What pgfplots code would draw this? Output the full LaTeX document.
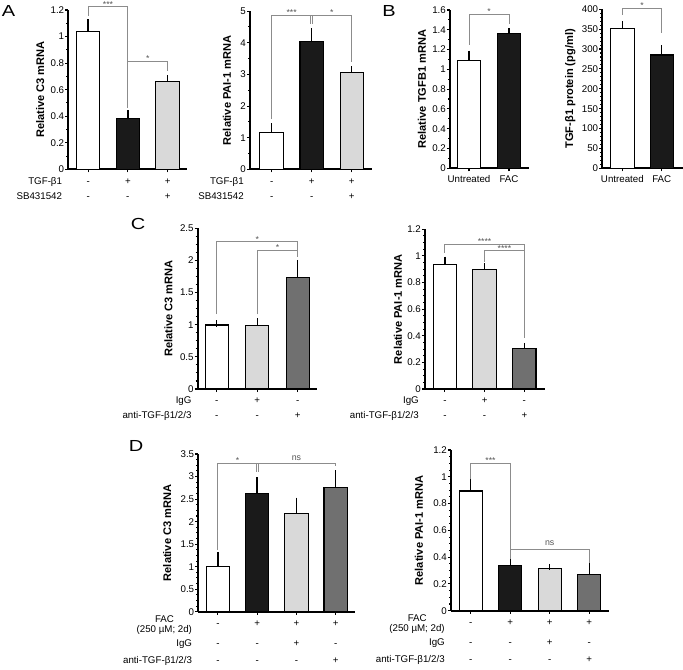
\documentclass[border=0pt]{standalone}
\usepackage{pgfplots}
\pgfplotsset{compat=1.18}
\usepackage{fontspec}
\setmainfont{Liberation Sans}

\definecolor{lgray}{HTML}{D9D9D9}
\definecolor{dgray}{HTML}{707070}
\definecolor{bblack}{HTML}{1A1A1A}
\definecolor{brc}{HTML}{8C8C8C}
\definecolor{stc}{HTML}{555555}

\newcommand{\tk}{\fontsize{7.3}{8}\selectfont}

\pgfplotsset{
  panel/.style={
    scale only axis, anchor=south west, clip=false,
    axis x line=bottom, axis y line=left,
    axis line style={-, line width=1.4pt, black},
    tick align=outside, major tick length=2.3pt, minor tick length=1.5pt,
    every tick/.append style={black, line width=0.8pt},
    ymin=0, xticklabels={,,,},
    y tick label style={font=\tk, inner sep=0.6pt},
    x tick label style={font=\tk, inner sep=0pt, anchor=base, yshift=-8.5pt},
    /pgf/number format/assume math mode=true,
  },
  ylab/.style={every axis y label/.style={at={(rel axis cs:0,0.5)}, xshift=#1,
    rotate=90, anchor=center, font=\bfseries\fontsize{8.3}{9}\selectfont}},
  bar/.style={ybar, bar width=17.5pt, bar shift=0pt, draw=black, line width=0.8pt, fill=#1,
    error bars/.cd, y dir=plus, y explicit,
    error bar style={black, line width=1pt},
    error mark options={black, line width=1pt, mark size=2.4pt}},
}
\tikzset{
  br/.style={draw=brc, line width=0.6pt},
  st/.style={text=stc, font=\fontsize{6.5}{7}\selectfont, anchor=base, inner sep=0pt, yshift=-0.3pt},
  ns/.style={text=stc, font=\fontsize{6.6}{7}\selectfont, anchor=base, inner sep=0pt, yshift=2.3pt},
  rl/.style={font=\tk, anchor=base east, inner sep=0pt, xshift=-4.5pt},
  sg/.style={font=\tk, anchor=base, inner sep=0pt},
  pl/.style={font=\fontsize{12}{14}\selectfont, inner sep=0pt},
}

\begin{document}
\begin{tikzpicture}
\useasboundingbox (0,0) rectangle (512.25pt,-501.75pt);

\node[pl] at (6.4pt,-8.3pt) {\scalebox{1.25}[1]{A}};
\node[pl] at (291.8pt,-8.6pt) {\scalebox{1.25}[1]{B}};
\node[pl] at (103.5pt,-168pt) {\scalebox{1.25}[1]{C}};
\node[pl] at (102pt,-334.5pt) {\scalebox{1.25}[1]{D}};

% ---- A: C3
\begin{axis}[panel, ylab=-21pt, at={(51.2pt,-127pt)}, width=88.8pt, height=119.5pt,
  xmin=-0.5, xmax=2.48, ymax=1.2, xtick={0,1,2},
  ytick={0,0.2,0.4,0.6,0.8,1,1.2}, minor y tick num=1,
  ylabel={Relative C3 mRNA}]
\addplot[bar=white] coordinates {(0,1.037) +- (0,0.068)};
\addplot[bar=bblack] coordinates {(1,0.384) +- (0,0.036)};
\addplot[bar=lgray] coordinates {(2,0.665) +- (0,0.02)};
\draw[br] (axis cs:0,1.155) -- (axis cs:0,1.225) -- (axis cs:1,1.225) -- (axis cs:1,0.46);
\node[st] at (axis cs:0.5,1.225) {***};
\draw[br] (axis cs:1,0.816) -- (axis cs:2,0.816) -- (axis cs:2,0.743);
\node[st] at (axis cs:1.5,0.816) {*};
\node[rl, yshift=-11.5pt] at (rel axis cs:0,0) {TGF-β1};
\node[rl, yshift=-22.8pt] at (rel axis cs:0,0) {SB431542};
\node[sg, yshift=-11.5pt] at (axis cs:0,0) {-};
\node[sg, yshift=-11.5pt] at (axis cs:1,0) {+};
\node[sg, yshift=-11.5pt] at (axis cs:2,0) {+};
\node[sg, yshift=-22.8pt] at (axis cs:0,0) {-};
\node[sg, yshift=-22.8pt] at (axis cs:1,0) {-};
\node[sg, yshift=-22.8pt] at (axis cs:2,0) {+};
\end{axis}

% ---- A: PAI-1
\begin{axis}[panel, ylab=-17.25pt, at={(187.5pt,-127pt)}, width=91.3pt, height=118.7pt,
  xmin=-0.54, xmax=2.5, ymax=5, xtick={0,1,2},
  ytick={0,1,2,3,4,5}, minor y tick num=1,
  ylabel={Relative PAI-1 mRNA}]
\addplot[bar=white] coordinates {(0,1.16) +- (0,0.19)};
\addplot[bar=bblack] coordinates {(1,4.05) +- (0,0.30)};
\addplot[bar=lgray] coordinates {(2,3.06) +- (0,0.10)};
\draw[br] (axis cs:0,1.58) -- (axis cs:0,4.87) -- (axis cs:2,4.87) -- (axis cs:2,3.4);
\draw[br, xshift=-0.7pt] (axis cs:1,4.87) -- (axis cs:1,4.59);
\draw[br, xshift=0.7pt] (axis cs:1,4.87) -- (axis cs:1,4.59);
\node[st] at (axis cs:0.5,4.87) {***};
\node[st] at (axis cs:1.5,4.87) {*};
\node[rl, yshift=-11.5pt] at (rel axis cs:0,0) {TGF-β1};
\node[rl, yshift=-22.8pt] at (rel axis cs:0,0) {SB431542};
\node[sg, yshift=-11.5pt] at (axis cs:0,0) {-};
\node[sg, yshift=-11.5pt] at (axis cs:1,0) {+};
\node[sg, yshift=-11.5pt] at (axis cs:2,0) {+};
\node[sg, yshift=-22.8pt] at (axis cs:0,0) {-};
\node[sg, yshift=-22.8pt] at (axis cs:1,0) {-};
\node[sg, yshift=-22.8pt] at (axis cs:2,0) {+};
\end{axis}

% ---- B: TGFB1 mRNA
\begin{axis}[panel, ylab=-21pt, at={(337.5pt,-126.2pt)}, width=59.25pt, height=118.7pt,
  xmin=-0.475, xmax=1.5, ymax=1.6, xtick={0,1}, xticklabels={Untreated,FAC},
  ytick={0,0.2,0.4,0.6,0.8,1,1.2,1.4,1.6}, minor y tick num=1,
  ylabel={Relative TGFB1 mRNA}]
\addplot[bar=white] coordinates {(0,1.085) +- (0,0.071)};
\addplot[bar=bblack] coordinates {(1,1.365) +- (0,0.023)};
\draw[br] (axis cs:0,1.247) -- (axis cs:0,1.56) -- (axis cs:1,1.56) -- (axis cs:1,1.459);
\node[st] at (axis cs:0.5,1.56) {*};
\end{axis}

% ---- B: TGF-b1 protein
\begin{axis}[panel, ylab=-24pt, at={(451.7pt,-126.2pt)}, width=60.3pt, height=119.25pt,
  xmin=-0.51, xmax=1.53, ymax=400, xtick={0,1}, xticklabels={Untreated,FAC},
  ytick={0,50,100,150,200,250,300,350,400}, minor y tick num=4,
  ylabel={TGF-β1 protein (pg/ml)}]
\addplot[bar=white] coordinates {(0,352) +- (0,10)};
\addplot[bar=bblack] coordinates {(1,285) +- (0,16)};
\draw[br] (axis cs:0,385.7) -- (axis cs:0,402.5) -- (axis cs:1,402.5) -- (axis cs:1,339.6);
\node[st] at (axis cs:0.5,402.5) {*};
\end{axis}

% ---- C: C3
\begin{axis}[panel, ylab=-22pt, at={(148.3pt,-291.75pt)}, width=89.25pt, height=120.5pt,
  xmin=-0.47, xmax=2.47, ymax=2.5, xtick={0,1,2},
  ytick={0,0.5,1,1.5,2,2.5}, minor y tick num=3,
  ylabel={Relative C3 mRNA}]
\addplot[bar=white] coordinates {(0,0.996) +- (0,0.021)};
\addplot[bar=lgray] coordinates {(1,0.99) +- (0,0.06)};
\addplot[bar=dgray] coordinates {(2,1.737) +- (0,0.223)};
\draw[br] (axis cs:0,1.167) -- (axis cs:0,2.29) -- (axis cs:2,2.29) -- (axis cs:2,2.06);
\draw[br] (axis cs:1,1.16) -- (axis cs:1,2.16) -- (axis cs:2,2.16);
\node[st] at (axis cs:1,2.29) {*};
\node[st] at (axis cs:1.5,2.16) {*};
\node[rl, yshift=-11pt] at (rel axis cs:0,0) {IgG};
\node[rl, yshift=-22.3pt] at (rel axis cs:0,0) {anti-TGF-β1/2/3};
\node[sg, yshift=-11pt] at (axis cs:0,0) {-};
\node[sg, yshift=-11pt] at (axis cs:1,0) {+};
\node[sg, yshift=-11pt] at (axis cs:2,0) {-};
\node[sg, yshift=-22.3pt] at (axis cs:0,0) {-};
\node[sg, yshift=-22.3pt] at (axis cs:1,0) {-};
\node[sg, yshift=-22.3pt] at (axis cs:2,0) {+};
\end{axis}

% ---- C: PAI-1
\begin{axis}[panel, ylab=-20.25pt, at={(318.75pt,-291.75pt)}, width=90pt, height=119.8pt,
  xmin=-0.5, xmax=2.52, ymax=1.2, xtick={0,1,2},
  ytick={0,0.2,0.4,0.6,0.8,1,1.2}, minor y tick num=3,
  ylabel={Relative PAI-1 mRNA}]
\addplot[bar=white] coordinates {(0,0.937) +- (0,0.033)};
\addplot[bar=lgray] coordinates {(1,0.90) +- (0,0.022)};
\addplot[bar=dgray] coordinates {(2,0.306) +- (0,0.017)};
\draw[br] (axis cs:0,1.02) -- (axis cs:0,1.088) -- (axis cs:2,1.088);
\draw[br] (axis cs:1,0.957) -- (axis cs:1,1.038) -- (axis cs:2,1.038);
\draw[br, line width=1.2pt] (axis cs:2,1.088) -- (axis cs:2,0.38);
\node[st] at (axis cs:1,1.088) {****};
\node[st] at (axis cs:1.5,1.038) {****};
\node[rl, yshift=-11pt] at (rel axis cs:0,0) {IgG};
\node[rl, yshift=-22.3pt] at (rel axis cs:0,0) {anti-TGF-β1/2/3};
\node[sg, yshift=-11pt] at (axis cs:0,0) {-};
\node[sg, yshift=-11pt] at (axis cs:1,0) {+};
\node[sg, yshift=-11pt] at (axis cs:2,0) {-};
\node[sg, yshift=-22.3pt] at (axis cs:0,0) {-};
\node[sg, yshift=-22.3pt] at (axis cs:1,0) {-};
\node[sg, yshift=-22.3pt] at (axis cs:2,0) {+};
\end{axis}

% ---- D: C3
\begin{axis}[panel, ylab=-23.25pt, at={(148.7pt,-458.8pt)}, width=117.5pt, height=118.3pt,
  xmin=-0.5, xmax=3.49, ymax=3.5, xtick={0,1,2,3},
  ytick={0,0.5,1,1.5,2,2.5,3,3.5}, minor y tick num=3,
  ylabel={Relative C3 mRNA}]
\addplot[bar=white] coordinates {(0,1.0) +- (0,0.26)};
\addplot[bar=bblack] coordinates {(1,2.63) +- (0,0.28)};
\addplot[bar=lgray] coordinates {(2,2.185) +- (0,0.275)};
\addplot[bar=dgray] coordinates {(3,2.76) +- (0,0.31)};
\draw[br] (axis cs:0,1.37) -- (axis cs:0,3.29) -- (axis cs:3,3.29) -- (axis cs:3,3.23);
\draw[br, xshift=-0.7pt] (axis cs:1,3.29) -- (axis cs:1,3.09);
\draw[br, xshift=0.7pt] (axis cs:1,3.29) -- (axis cs:1,3.09);
\node[st] at (axis cs:0.5,3.29) {*};
\node[ns] at (axis cs:2,3.29) {ns};
\node[sg, xshift=-25.3pt, yshift=-8.1pt] at (rel axis cs:0,0) {FAC};
\node[rl, yshift=-15.6pt] at (rel axis cs:0,0) {(250 µM; 2d)};
\node[rl, yshift=-26.1pt] at (rel axis cs:0,0) {IgG};
\node[rl, yshift=-38.9pt] at (rel axis cs:0,0) {anti-TGF-β1/2/3};
\node[sg, yshift=-11.25pt] at (axis cs:0,0) {-};
\node[sg, yshift=-11.25pt] at (axis cs:1,0) {+};
\node[sg, yshift=-11.25pt] at (axis cs:2,0) {+};
\node[sg, yshift=-11.25pt] at (axis cs:3,0) {+};
\node[sg, yshift=-26.1pt] at (axis cs:0,0) {-};
\node[sg, yshift=-26.1pt] at (axis cs:1,0) {-};
\node[sg, yshift=-26.1pt] at (axis cs:2,0) {+};
\node[sg, yshift=-26.1pt] at (axis cs:3,0) {-};
\node[sg, yshift=-38.9pt] at (axis cs:0,0) {-};
\node[sg, yshift=-38.9pt] at (axis cs:1,0) {-};
\node[sg, yshift=-38.9pt] at (axis cs:2,0) {-};
\node[sg, yshift=-38.9pt] at (axis cs:3,0) {+};
\end{axis}

% ---- D: PAI-1
\begin{axis}[panel, ylab=-24pt, at={(338.25pt,-458pt)}, width=118.5pt, height=120.5pt,
  xmin=-0.5, xmax=3.5, ymax=1.2, xtick={0,1,2,3},
  ytick={0,0.2,0.4,0.6,0.8,1,1.2}, minor y tick num=3,
  ylabel={Relative PAI-1 mRNA}]
\addplot[bar=white] coordinates {(0,0.894) +- (0,0.082)};
\addplot[bar=bblack] coordinates {(1,0.334) +- (0,0.03)};
\addplot[bar=lgray] coordinates {(2,0.314) +- (0,0.012)};
\addplot[bar=dgray] coordinates {(3,0.271) +- (0,0.058)};
\draw[br] (axis cs:0,0.98) -- (axis cs:0,1.10) -- (axis cs:1,1.10) -- (axis cs:1,0.39);
\node[st] at (axis cs:0.5,1.10) {***};
\draw[br] (axis cs:1,0.385) -- (axis cs:1,0.461) -- (axis cs:3,0.461) -- (axis cs:3,0.354);
\node[ns] at (axis cs:2,0.461) {ns};
\node[sg, xshift=-25.3pt, yshift=-8.1pt] at (rel axis cs:0,0) {FAC};
\node[rl, yshift=-15.6pt] at (rel axis cs:0,0) {(250 µM; 2d)};
\node[rl, yshift=-26.1pt] at (rel axis cs:0,0) {IgG};
\node[rl, yshift=-38.9pt] at (rel axis cs:0,0) {anti-TGF-β1/2/3};
\node[sg, yshift=-11.25pt] at (axis cs:0,0) {-};
\node[sg, yshift=-11.25pt] at (axis cs:1,0) {+};
\node[sg, yshift=-11.25pt] at (axis cs:2,0) {+};
\node[sg, yshift=-11.25pt] at (axis cs:3,0) {+};
\node[sg, yshift=-26.1pt] at (axis cs:0,0) {-};
\node[sg, yshift=-26.1pt] at (axis cs:1,0) {-};
\node[sg, yshift=-26.1pt] at (axis cs:2,0) {+};
\node[sg, yshift=-26.1pt] at (axis cs:3,0) {-};
\node[sg, yshift=-38.9pt] at (axis cs:0,0) {-};
\node[sg, yshift=-38.9pt] at (axis cs:1,0) {-};
\node[sg, yshift=-38.9pt] at (axis cs:2,0) {-};
\node[sg, yshift=-38.9pt] at (axis cs:3,0) {+};
\end{axis}
\end{tikzpicture}
\end{document}
